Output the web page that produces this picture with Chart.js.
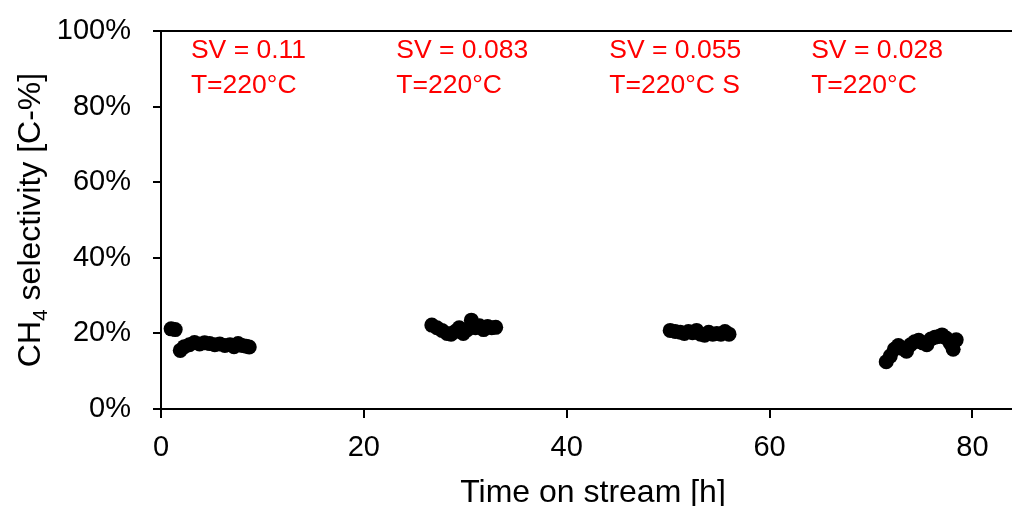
<!DOCTYPE html>
<html>
<head>
<meta charset="utf-8">
<script src="https://cdn.jsdelivr.net/npm/chart.js@4/dist/chart.umd.min.js"></script>
<style>
html,body{margin:0;padding:0;background:#fff;}
#wrap{width:1012px;height:506px;position:relative;}
</style>
</head>
<body>
<div id="wrap"><canvas id="c" width="1012" height="506"></canvas></div>
<script>
// ---- data ----
const timeH = [
  1.0,1.4,1.9,2.3,2.8,3.3,3.8,4.3,4.8,5.3,5.8,6.3,6.8,7.2,7.6,8.0,8.4,8.7,
  26.7,27.2,27.7,28.2,28.6,29.0,29.4,29.8,30.2,30.6,31.0,31.4,31.8,32.2,32.6,33.0,
  50.2,50.7,51.2,51.6,52.0,52.4,52.8,53.2,53.6,54.0,54.4,54.8,55.2,55.6,56.0,
  71.5,71.9,72.3,72.7,73.1,73.5,73.9,74.3,74.7,75.1,75.5,75.9,76.3,76.7,77.0,77.4,77.8,78.1,78.4
];
const ch4Sel = [
  21.2,21.0,15.5,16.5,17.0,17.6,17.2,17.5,17.3,17.0,17.2,16.8,17.0,16.5,17.3,16.8,16.6,16.4,
  22.2,21.5,20.8,20.0,19.8,20.5,21.5,20.0,21.0,23.5,21.5,22.0,21.0,21.8,21.5,21.6,
  20.8,20.5,20.3,20.0,20.5,20.2,20.8,19.8,19.5,20.3,19.8,20.0,19.8,20.5,19.8,
  12.5,14.0,15.8,16.8,16.0,15.3,17.0,17.8,18.2,17.5,17.0,18.5,19.0,19.2,19.6,18.8,17.5,15.8,18.3
];
const xTicks = [0,20,40,60,80];
const yTicks = [0,20,40,60,80,100];
const annotLine1 = ["SV = 0.11","SV = 0.083","SV = 0.055","SV = 0.028"];
const annotLine2 = ["T=220\u00B0C","T=220\u00B0C","T=220\u00B0C S","T=220\u00B0C"];
const annotX = [2.95, 23.2, 44.2, 64.1];

const FONT = "'Liberation Sans', Arial, sans-serif";

const extras = {
  id:'extras',
  afterDraw(chart){
    const ctx = chart.ctx, a = chart.chartArea, xs = chart.scales.x;
    ctx.save();
    // top frame line
    ctx.strokeStyle = '#000'; ctx.lineWidth = 2;
    ctx.beginPath(); ctx.moveTo(a.left-8, a.top); ctx.lineTo(chart.width, a.top); ctx.stroke();
    // annotations
    ctx.fillStyle = '#ff0000';
    ctx.font = '26.5px ' + FONT;
    ctx.textAlign = 'left'; ctx.textBaseline = 'alphabetic';
    for (let i=0;i<annotLine1.length;i++){
      const px = xs.getPixelForValue(annotX[i]);
      ctx.fillText(annotLine1[i], px, 58);
      ctx.fillText(annotLine2[i], px, 93);
    }
    // x title
    ctx.fillStyle = '#000';
    ctx.font = '32px ' + FONT;
    ctx.textAlign = 'center';
    ctx.fillText('Time on stream [h]', 593, 502);
    // y title with subscript
    const big = '32px ' + FONT, small = '21px ' + FONT;
    ctx.font = big; const w1 = ctx.measureText('CH').width;
    ctx.font = small; const w2 = ctx.measureText('4').width;
    ctx.font = big; const w3 = ctx.measureText(' selectivity [C-%]').width;
    const total = w1+w2+w3;
    ctx.translate(40, 220);
    ctx.rotate(-Math.PI/2);
    ctx.textAlign = 'left';
    let x0 = -total/2;
    ctx.font = big; ctx.fillText('CH', x0, 0);
    ctx.font = small; ctx.fillText('4', x0+w1, 7);
    ctx.font = big; ctx.fillText(' selectivity [C-%]', x0+w1+w2, 0);
    ctx.restore();
  }
};

new Chart(document.getElementById('c'), {
  type:'scatter',
  data:{ datasets:[{
    data: timeH.map((t,i)=>({x:t, y:ch4Sel[i]})),
    backgroundColor:'#000', borderColor:'#000',
    pointRadius:7.5, pointHoverRadius:7.5, borderWidth:0
  }]},
  options:{
    responsive:false, animation:false,
    layout:{autoPadding:false, padding:{top:31,right:0,left:0,bottom:0}},
    plugins:{legend:{display:false}, tooltip:{enabled:false}},
    scales:{
      x:{
        type:'linear', min:0, max:83.9,
        afterBuildTicks(s){ s.ticks = xTicks.map(v=>({value:v})); },
        afterFit(s){ s.height = 97; s.paddingLeft = 0; s.paddingRight = 0; },
        grid:{drawOnChartArea:false, drawTicks:true, tickLength:9, color:'#000', lineWidth:2},
        border:{color:'#000', width:2},
        ticks:{color:'#000', font:{family:FONT, size:29}, padding:13, maxRotation:0, autoSkip:false}
      },
      y:{
        min:0, max:100,
        afterBuildTicks(s){ s.ticks = yTicks.map(v=>({value:v})); },
        afterFit(s){ s.width = 161; s.paddingTop = 0; s.paddingBottom = 0; },
        grid:{drawOnChartArea:false, drawTicks:true, tickLength:8, color:'#000', lineWidth:2},
        border:{color:'#000', width:2},
        ticks:{color:'#000', font:{family:FONT, size:29}, padding:22, callback:v=>v+'%'}
      }
    }
  },
  plugins:[extras]
});
</script>
</body>
</html>
